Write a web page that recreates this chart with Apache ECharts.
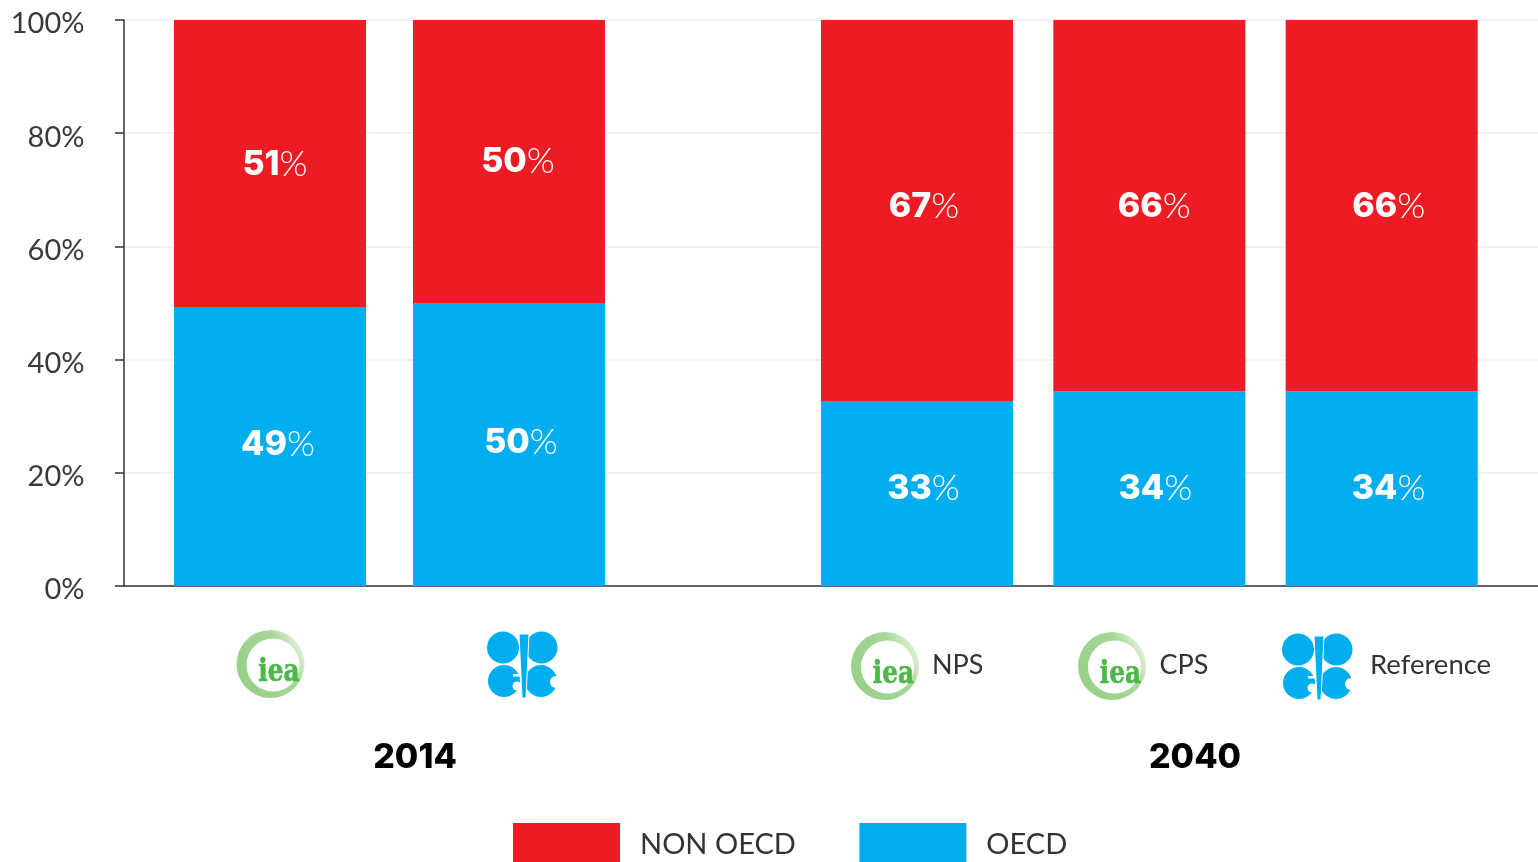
<!DOCTYPE html>
<html>
<head>
<meta charset="utf-8">
<style>html,body{margin:0;padding:0;background:#fff;overflow:hidden}#c{width:1538px;height:862px}</style>
<script src="https://cdn.jsdelivr.net/npm/echarts@6/dist/echarts.min.js"></script>
</head>
<body>
<div id="c"></div>
<script>
const categories2014 = ['IEA', 'OPEC'];
const categories2040 = ['IEA NPS', 'IEA CPS', 'OPEC Reference'];
const oecd2014 = [49.3, 50];
const nonOecd2014 = [50.7, 50];
const oecd2040 = [32.7, 34.4, 34.4];
const nonOecd2040 = [67.3, 65.6, 65.6];
const yTicks = [0, 20, 40, 60, 80, 100];
const years = ['2014', '2040'];
const scenarioLabels = ['NPS', 'CPS', 'Reference'];
const seriesNames = ['NON OECD', 'OECD'];

const RED = '#ed1c24', BLUE = '#00aeef', FONT = 'Lato, "Open Sans", sans-serif', HEAVY = 'Inter, Lato, sans-serif';
const chart = echarts.init(document.getElementById('c'));

function barSeries(name, values, stack, idx, color, offsets) {
  return {
    name, type: 'bar', stack, xAxisIndex: idx, yAxisIndex: idx,
    data: values.map((value, i) => ({ value, label: { offset: offsets[i] } })),
    barWidth: 192, itemStyle: { color },
    label: {
      show: true, position: 'inside',
      formatter: p => `{b|${Math.round(p.value)}}{t|%}`,
      rich: {
        b: { fontFamily: HEAVY, fontWeight: 800, fontSize: 34, color: '#fff' },
        t: { fontFamily: FONT, fontWeight: 300, fontSize: 36, color: '#fff' }
      }
    }
  };
}

function ieaLogo(cx, cy) {
  return { type: 'group', x: cx, y: cy, silent: true, children: [
    { type: 'circle', shape: { cx: 0, cy: 0, r: 34 }, style: { fill: new echarts.graphic.LinearGradient(0, 0.8, 1, 0.3, [
      { offset: 0, color: '#95d085' }, { offset: 0.7, color: '#a5d796' }, { offset: 1, color: '#e4f2de' }]) } },
    { type: 'circle', shape: { cx: 2.5, cy: 1, r: 26.5 }, style: { fill: '#fff' } },
    { type: 'text', x: 8.5, y: 9, scaleX: 0.8, silent: true, style: { text: 'iea', fill: '#4cb848', stroke: '#4cb848', lineWidth: 0.7, font: 'bold 31px "DejaVu Serif", serif', align: 'center', verticalAlign: 'middle' } }
  ] };
}

function opecLogo(cx, cy) {
  return { type: 'group', x: cx, y: cy, silent: true, children: [
    { type: 'circle', shape: { cx: -19, cy: -17.5, r: 16 }, style: { fill: BLUE } },
    { type: 'circle', shape: { cx: 19.5, cy: -17.5, r: 16 }, style: { fill: BLUE } },
    { type: 'circle', shape: { cx: -18, cy: 16, r: 16 }, style: { fill: BLUE } },
    { type: 'circle', shape: { cx: 19, cy: 16, r: 16 }, style: { fill: BLUE } },
    { type: 'circle', shape: { cx: -5, cy: 21, r: 4.5 }, style: { fill: '#fff' } },
    { type: 'rect', shape: { x: -9, y: 9, width: 9, height: 2.5 }, style: { fill: '#fff' } },
    { type: 'circle', shape: { cx: 34, cy: 17, r: 6 }, style: { fill: '#fff' } },
    { type: 'polygon', shape: { points: [[-3, -31], [7, -31], [4, 33], [0, 33]] }, style: { fill: BLUE, stroke: '#fff', lineWidth: 1 } }
  ] };
}

function txt(x, y, text, font, fill, align) {
  return { type: 'text', x, y, silent: true, style: { text, font, fill, align, verticalAlign: 'middle' } };
}

chart.setOption({
  animation: false,
  backgroundColor: '#fff',
  grid: [
    { left: 124, right: 0, top: 20, height: 566 },
    { left: 150.5, width: 478, top: 20, height: 566 },
    { left: 800.85, width: 697, top: 20, height: 566 }
  ],
  xAxis: [
    { gridIndex: 0, type: 'value', min: 0, max: 1, axisLine: { show: true, lineStyle: { color: '#333', width: 1.5 } }, axisTick: { show: false }, axisLabel: { show: false }, splitLine: { show: false } },
    { gridIndex: 1, type: 'category', data: categories2014, show: false },
    { gridIndex: 2, type: 'category', data: categories2040, show: false }
  ],
  yAxis: [
    { gridIndex: 0, type: 'value', min: yTicks[0], max: yTicks[yTicks.length - 1], interval: yTicks[1] - yTicks[0],
      axisLine: { show: true, lineStyle: { color: '#333', width: 1.5 } },
      axisTick: { show: true, length: 9, lineStyle: { color: '#333', width: 1.5 } },
      axisLabel: { margin: 39.5, formatter: v => `{a|${v}%}`,
        rich: { a: { color: '#3a3a3a', fontFamily: FONT, fontSize: 29, padding: [8, 0, 0, 0] } } },
      splitLine: { show: true, lineStyle: { color: '#f0f0f0', width: 2 } } },
    { gridIndex: 1, type: 'value', min: 0, max: 100, show: false },
    { gridIndex: 2, type: 'value', min: 0, max: 100, show: false }
  ],
  legend: {
    left: 513, top: 823, itemWidth: 107, itemHeight: 44, itemGap: 63.5, padding: 0,
    icon: 'rect', selectedMode: false, data: seriesNames,
    textStyle: { fontFamily: FONT, fontSize: 29, color: '#333', padding: [2, 0, 0, 15] }
  },
  series: [
    barSeries(seriesNames[1], oecd2014, 'a', 1, BLUE, [[8, -2], [12, -2]]),
    barSeries(seriesNames[0], nonOecd2014, 'a', 1, RED, [[5, 1], [9, 0]]),
    barSeries(seriesNames[1], oecd2040, 'b', 2, BLUE, [[6.5, -5], [6, 0], [7, 0]]),
    barSeries(seriesNames[0], nonOecd2040, 'b', 2, RED, [[7, -4], [5, 1], [7, 1]])
  ],
  graphic: [
    ieaLogo(270.5, 664), opecLogo(522, 665),
    ieaLogo(885, 666), ieaLogo(1112, 666), opecLogo(1317, 667),
    txt(415, 758, years[0], '800 34px ' + HEAVY, '#000', 'center'),
    txt(1195, 758, years[1], '800 34px ' + HEAVY, '#000', 'center'),
    txt(932, 665, scenarioLabels[0], '27px ' + FONT, '#333', 'left'),
    txt(1159.5, 665, scenarioLabels[1], '27px ' + FONT, '#333', 'left'),
    txt(1370, 665, scenarioLabels[2], '27.5px ' + FONT, '#333', 'left')
  ]
});
</script>
</body>
</html>
